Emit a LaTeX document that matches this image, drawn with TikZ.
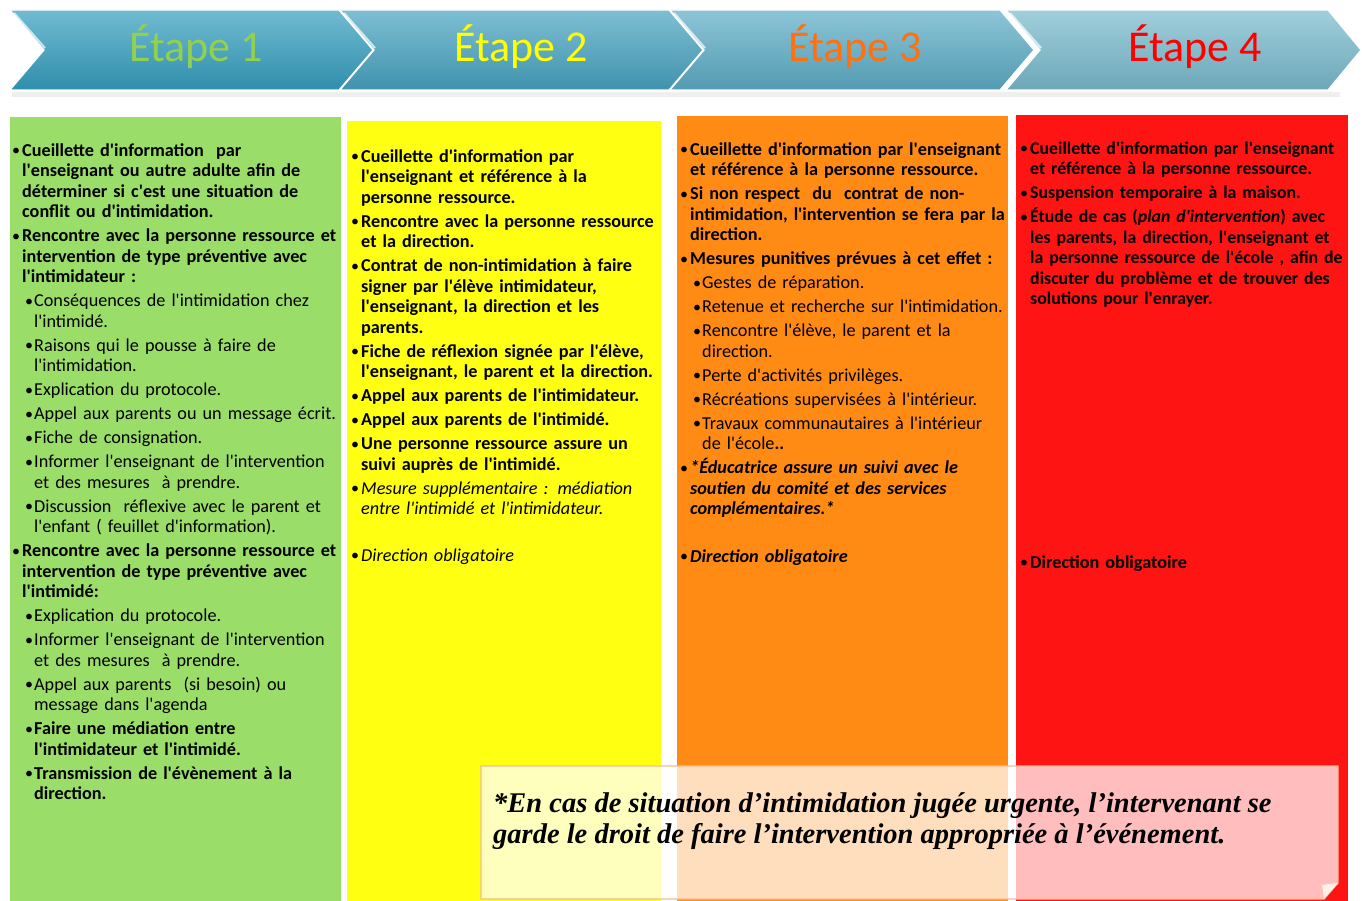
\documentclass[tikz,border=0pt]{standalone}
\usepackage{fontspec}
\setmainfont{Carlito}[Ligatures=TeXOff]
\newfontfamily\notefont{Liberation Serif}

\definecolor{colgreen}{RGB}{155,221,105}
\definecolor{colyellow}{RGB}{255,255,18}
\definecolor{colorange}{RGB}{255,138,20}
\definecolor{colred}{RGB}{255,20,20}
\definecolor{chevA}{RGB}{52,158,190}
\definecolor{chevB}{RGB}{70,163,192}
\definecolor{chevC}{RGB}{92,172,198}
\definecolor{chevD}{RGB}{120,186,205}
\definecolor{etgreen}{RGB}{146,208,80}
\definecolor{etyellow}{RGB}{255,255,0}
\definecolor{etorange}{RGB}{255,112,16}
\definecolor{etred}{RGB}{255,0,0}
\definecolor{noteline}{RGB}{244,186,150}

% puces
\newcommand{\puce}{\raisebox{0.5pt}{\fontsize{16}{16}\selectfont •}}
\newcommand{\itm}[1]{\par\setlength{\parskip}{3.5pt}\setlength{\leftskip}{0pt}\hangindent=10pt\hangafter=1\noindent\makebox[10pt][l]{\puce}#1}
\newcommand{\sitm}[1]{\par\setlength{\parskip}{3.5pt}\setlength{\leftskip}{13pt}\hangindent=9pt\hangafter=1\noindent\makebox[9pt][l]{\puce}#1}

\tikzset{
  chevron/.style={draw=white, line width=1.2pt, top color=#1!70!white, middle color=#1, bottom color=#1!90!black},
  etape/.style={font=\fontsize{44}{50}\selectfont},
  coltext/.style={anchor=north west, inner sep=0pt, text width=400pt,
    font=\fontsize{18.2}{20.5}\selectfont},
  column/.style={fill=#1, draw=none}
}

\begin{document}
\begin{tikzpicture}[x=1pt,y=-1pt]
  \useasboundingbox (0,0) rectangle (1362,901);
  \fill[white] (0,0) rectangle (1362,901);

  % bandeau des etapes
  \fill[black!20, opacity=0.3] (12,92) -- (1340,92) -- (1340,97) -- (12,97) -- cycle;
  \path[chevron=chevA] (10,10) -- (339,10) -- (373,50) -- (339,90) -- (10,90) -- (44,50) -- cycle;
  \path[chevron=chevB] (340,10) -- (669,10) -- (703,50) -- (669,90) -- (340,90) -- (374,50) -- cycle;
  \path[chevron=chevC] (670,10) -- (1000,10) -- (1034,50) -- (1000,90) -- (670,90) -- (704,50) -- cycle;
  \path[chevron=chevD] (1006,10) -- (1328,10) -- (1361,50) -- (1328,90) -- (1006,90) -- (1040,50) -- cycle;
  \draw[white, opacity=0.7, line width=2pt] (14,13) -- (45,48) (344,13) -- (375,48) (674,13) -- (705,48) (1010,13) -- (1041,48);

  \node[etape, text=etgreen] (etape1) at (196,47) {Étape 1};
  \node[etape, text=etyellow] (etape2) at (521,47) {Étape 2};
  \node[etape, text=etorange] (etape3) at (855,47) {Étape 3};
  \node[etape, text=etred] (etape4) at (1195,47) {Étape 4};

  % colonnes
  \fill[column=colgreen] (10,117) rectangle (341,901);
  \fill[column=colyellow] (347,121) rectangle (661,901);
  \fill[column=colorange] (677,116) rectangle (1008,901);
  \fill[column=colred] (1016,115) rectangle (1348,901);

  \node[coltext] (col1) at (12,132) {%
    \itm{\textbf{Cueillette d'information\ \ par\newline
      l'enseignant ou autre adulte afin de\newline
      déterminer si c'est une situation de\newline
      conflit ou d'intimidation.}}
    \itm{\textbf{Rencontre avec la personne ressource et\newline
      intervention de type préventive avec\newline
      l'intimidateur :}}
    \sitm{Conséquences de l'intimidation chez\newline l'intimidé.}
    \sitm{Raisons qui le pousse à faire de\newline l'intimidation.}
    \sitm{Explication du protocole.}
    \sitm{Appel aux parents ou un message écrit.}
    \sitm{Fiche de consignation.}
    \sitm{Informer l'enseignant de l'intervention\newline et des mesures\ \ à prendre.}
    \sitm{Discussion\ \ réflexive avec le parent et\newline l'enfant ( feuillet d'information).}
    \itm{\textbf{Rencontre avec la personne ressource et\newline
      intervention de type préventive avec\newline
      l'intimidé:}}
    \sitm{Explication du protocole.}
    \sitm{Informer l'enseignant de l'intervention\newline et des mesures\ \ à prendre.}
    \sitm{Appel aux parents\ \ (si besoin) ou\newline message dans l'agenda}
    \sitm{\textbf{Faire une médiation entre\newline l'intimidateur et l'intimidé.}}
    \sitm{\textbf{Transmission de l'évènement à la\newline direction.}}\par};

  \node[coltext] (col2) at (351,138) {%
    \itm{\textbf{Cueillette d'information par\newline
      l'enseignant et référence à la\newline personne ressource.}}
    \itm{\textbf{Rencontre avec la personne ressource\newline et la direction.}}
    \itm{\textbf{Contrat de non-intimidation à faire\newline
      signer par l'élève intimidateur,\newline
      l'enseignant, la direction et les\newline parents.}}
    \itm{\textbf{Fiche de réflexion signée par l'élève,\newline
      l'enseignant, le parent et la direction.}}
    \itm{\textbf{Appel aux parents de l'intimidateur.}}
    \itm{\textbf{Appel aux parents de l'intimidé.}}
    \itm{\textbf{Une personne ressource assure un\newline suivi auprès de l'intimidé.}}
    \itm{\textit{Mesure supplémentaire : médiation\newline entre l'intimidé et l'intimidateur.}}\par};
  \node[coltext] (col2dir) at (351,537) {\itm{\textit{Direction obligatoire}}\par};

  \node[coltext] (col3) at (680,131) {%
    \itm{\textbf{Cueillette d'information par l'enseignant\newline
      et référence à la personne ressource.}}
    \itm{\textbf{Si non respect\ \ du\ \ contrat de non-\newline
      intimidation, l'intervention se fera par la\newline direction.}}
    \itm{\textbf{Mesures punitives prévues à cet effet :}}
    \sitm{Gestes de réparation.}
    \sitm{Retenue et recherche sur l'intimidation.}
    \sitm{Rencontre l'élève, le parent et la\newline direction.}
    \sitm{Perte d'activités privilèges.}
    \sitm{Récréations supervisées à l'intérieur.}
    \sitm{Travaux communautaires à l'intérieur\newline de l'école\textbf{..}}
    \itm{\textbf{\textit{*Éducatrice assure un suivi avec le\newline
      soutien du comité et des services\newline complémentaires.*}}}\par};
  \node[coltext] (col3dir) at (680,538) {\itm{\textbf{\textit{Direction obligatoire}}}\par};

  \node[coltext, font=\fontsize{17.8}{20.5}\selectfont] (col4) at (1020,130) {%
    \itm{\textbf{Cueillette d'information par l'enseignant\newline
      et référence à la personne ressource.}}
    \itm{\textbf{Suspension temporaire à la maison.}}
    \itm{\textbf{Étude de cas (\textit{plan d'intervention}) avec\newline
      les parents, la direction, l'enseignant et\newline
      la personne ressource de l'école , afin de\newline
      discuter du problème et de trouver des\newline
      solutions pour l'enrayer.}}\par};
  \node[coltext] (col4dir) at (1020,544) {\itm{\textbf{Direction obligatoire}}\par};

  % note en bas
  \fill[white, fill opacity=0.72] (481,766) -- (1338,766) -- (1338,883) -- (1324,899) -- (481,899) -- cycle;
  \draw[noteline, line width=1.3pt] (481,766) -- (1338,766) -- (1338,883) -- (1324,899) -- (481,899) -- cycle;
  \fill[white!80!noteline] (1338,883) -- (1324,899) -- (1322,885) -- cycle;
  \node[anchor=north west, inner sep=0pt, align=left, font=\notefont\bfseries\itshape\fontsize{28.5}{31}\selectfont]
    (note) at (493,792) {*En cas de situation d’intimidation jugée urgente, l’intervenant se\\
    garde le droit de faire l’intervention appropriée à l’événement.};
\end{tikzpicture}
\end{document}
